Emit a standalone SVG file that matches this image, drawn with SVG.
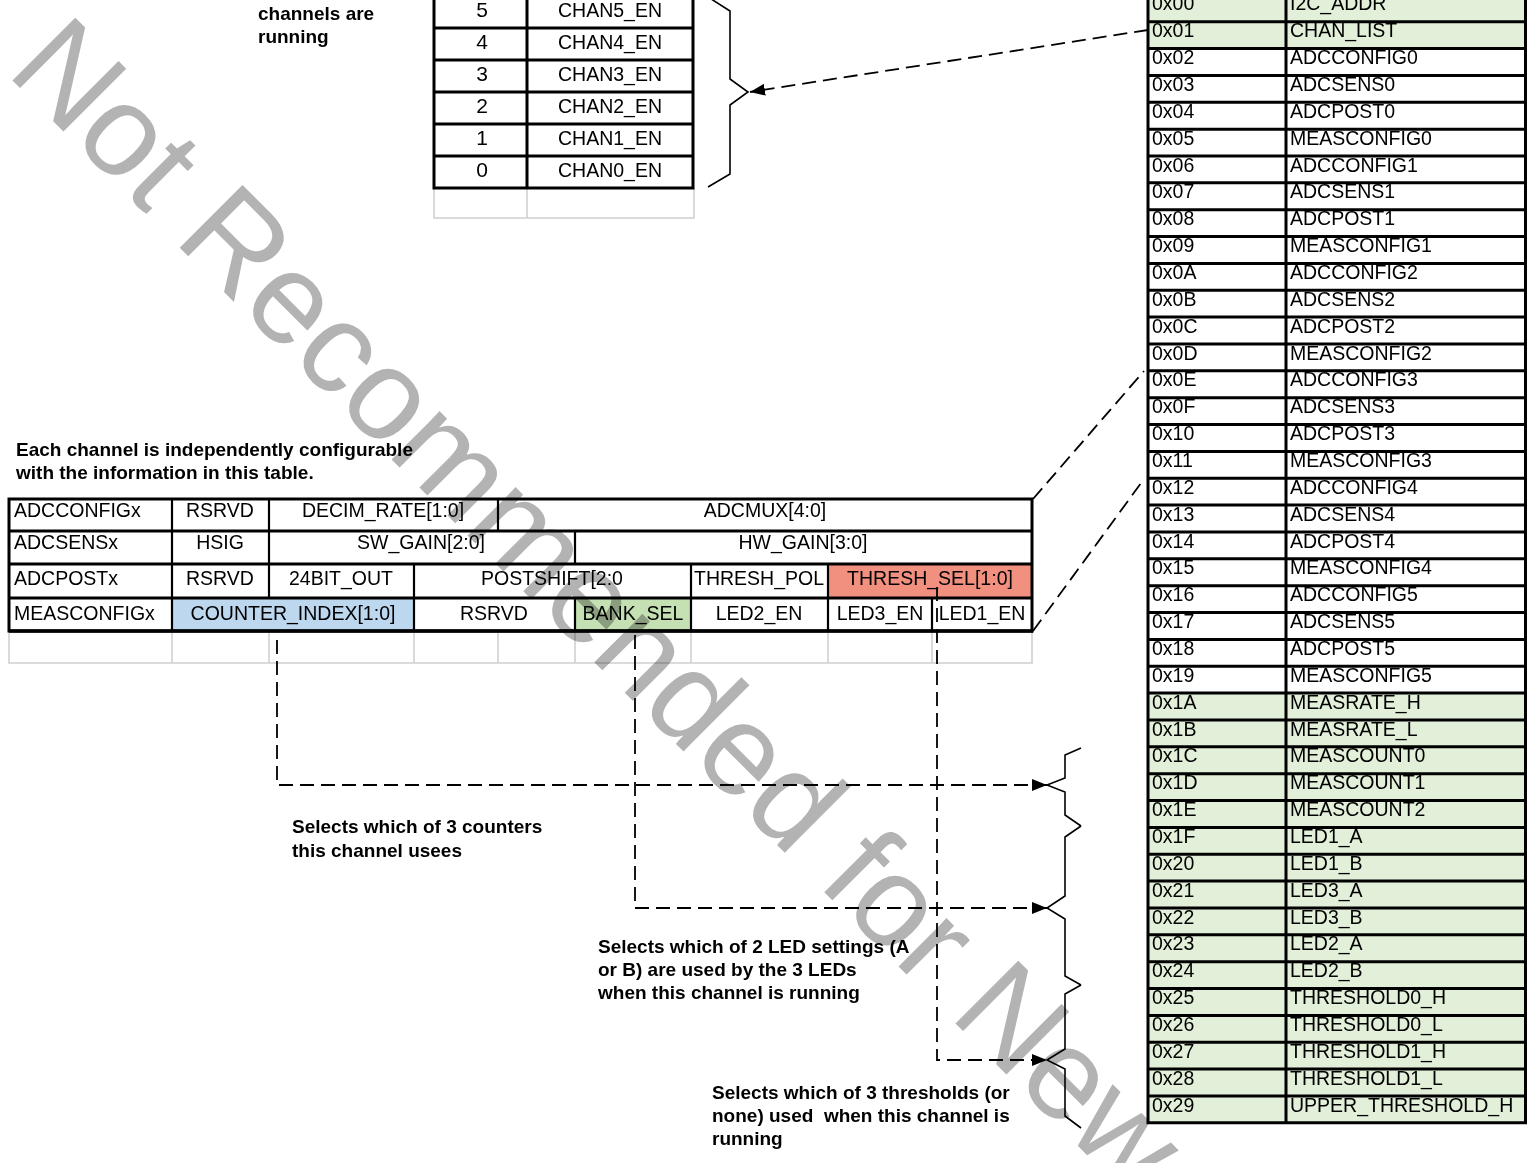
<svg xmlns="http://www.w3.org/2000/svg" width="1527" height="1163" viewBox="0 0 1527 1163">
<style>
  .lbl{font-family:"Liberation Sans",Arial,sans-serif;font-size:19.5px;fill:#000}
  .reg{font-family:"Liberation Sans",Arial,sans-serif;font-size:19.5px;fill:#000}
  .dig{font-family:"Liberation Sans",Arial,sans-serif;font-size:21px;fill:#000;text-anchor:middle}
  .mid{text-anchor:middle}
  .note{font-family:"Liberation Sans",Arial,sans-serif;font-size:19px;font-weight:bold;fill:#000}
  .thick{stroke:#000;stroke-width:3;fill:none}
  .thin{stroke:#000;stroke-width:2.2;fill:none}
  .gray{stroke:#d0d0d0;stroke-width:1.6;fill:none}
  .dash{stroke:#000;stroke-width:1.8;stroke-dasharray:14 7;fill:none}
  .brace{stroke:#000;stroke-width:1.6;fill:none;stroke-linejoin:miter}
  .wm{font-family:"Liberation Sans",Arial,sans-serif;font-size:129px;fill:#b3b3b3;mix-blend-mode:multiply}
</style>
<defs>
  <marker id="arrow" markerUnits="userSpaceOnUse" markerWidth="16" markerHeight="12" refX="15" refY="6" orient="auto">
    <path d="M0,0 L15,6 L0,12 z" fill="#000"/>
  </marker>
</defs>
<rect width="1527" height="1163" fill="#fff"/>

<!-- Channel enable table (top) -->
<g id="chan-list-table">
  <path class="gray" d="M434,188 V218 H694 V188 M527,188 V218"/>
  <text class="dig" x="482" y="17">5</text>
  <text class="dig" x="482" y="49">4</text>
  <text class="dig" x="482" y="81">3</text>
  <text class="dig" x="482" y="113">2</text>
  <text class="dig" x="482" y="145">1</text>
  <text class="dig" x="482" y="177">0</text>
  <text class="lbl mid" x="610" y="16.5">CHAN5_EN</text>
  <text class="lbl mid" x="610" y="48.5">CHAN4_EN</text>
  <text class="lbl mid" x="610" y="80.5">CHAN3_EN</text>
  <text class="lbl mid" x="610" y="112.5">CHAN2_EN</text>
  <text class="lbl mid" x="610" y="144.5">CHAN1_EN</text>
  <text class="lbl mid" x="610" y="176.5">CHAN0_EN</text>
  <path class="thick" d="M434,-5 V188 M527,-5 V188 M693,-5 V188 M434,28 H693 M434,60 H693 M434,92 H693 M434,124 H693 M434,156 H693 M432.5,188 H694.5"/>
</g>
<g id="chan-list-brace">
  <path class="brace" d="M708,-3 L730,11 L730,79 L748,92 L730,105 L730,174 L708,187"/>
</g>

<g id="note-channels">
  <text class="note" x="258" y="20">channels are</text>
  <text class="note" x="258" y="43">running</text>
</g>

<!-- Register map (right) -->
<g id="register-map">
  <rect x="1148" y="-6" width="379" height="54.5" fill="#e2efd9"/>
  <rect x="1148" y="693.1" width="379" height="429.7" fill="#e2efd9"/>
  <g class="reg">
    <text x="1152" y="10.3">0x00</text><text x="1290" y="10.3">I2C_ADDR</text>
    <text x="1152" y="37.2">0x01</text><text x="1290" y="37.2">CHAN_LIST</text>
    <text x="1152" y="64.1">0x02</text><text x="1290" y="64.1">ADCCONFIG0</text>
    <text x="1152" y="90.9">0x03</text><text x="1290" y="90.9">ADCSENS0</text>
    <text x="1152" y="117.8">0x04</text><text x="1290" y="117.8">ADCPOST0</text>
    <text x="1152" y="144.6">0x05</text><text x="1290" y="144.6">MEASCONFIG0</text>
    <text x="1152" y="171.5">0x06</text><text x="1290" y="171.5">ADCCONFIG1</text>
    <text x="1152" y="198.3">0x07</text><text x="1290" y="198.3">ADCSENS1</text>
    <text x="1152" y="225.2">0x08</text><text x="1290" y="225.2">ADCPOST1</text>
    <text x="1152" y="252.1">0x09</text><text x="1290" y="252.1">MEASCONFIG1</text>
    <text x="1152" y="278.9">0x0A</text><text x="1290" y="278.9">ADCCONFIG2</text>
    <text x="1152" y="305.8">0x0B</text><text x="1290" y="305.8">ADCSENS2</text>
    <text x="1152" y="332.6">0x0C</text><text x="1290" y="332.6">ADCPOST2</text>
    <text x="1152" y="359.5">0x0D</text><text x="1290" y="359.5">MEASCONFIG2</text>
    <text x="1152" y="386.3">0x0E</text><text x="1290" y="386.3">ADCCONFIG3</text>
    <text x="1152" y="413.2">0x0F</text><text x="1290" y="413.2">ADCSENS3</text>
    <text x="1152" y="440.1">0x10</text><text x="1290" y="440.1">ADCPOST3</text>
    <text x="1152" y="466.9">0x11</text><text x="1290" y="466.9">MEASCONFIG3</text>
    <text x="1152" y="493.8">0x12</text><text x="1290" y="493.8">ADCCONFIG4</text>
    <text x="1152" y="520.6">0x13</text><text x="1290" y="520.6">ADCSENS4</text>
    <text x="1152" y="547.5">0x14</text><text x="1290" y="547.5">ADCPOST4</text>
    <text x="1152" y="574.3">0x15</text><text x="1290" y="574.3">MEASCONFIG4</text>
    <text x="1152" y="601.2">0x16</text><text x="1290" y="601.2">ADCCONFIG5</text>
    <text x="1152" y="628.1">0x17</text><text x="1290" y="628.1">ADCSENS5</text>
    <text x="1152" y="654.9">0x18</text><text x="1290" y="654.9">ADCPOST5</text>
    <text x="1152" y="681.8">0x19</text><text x="1290" y="681.8">MEASCONFIG5</text>
    <text x="1152" y="708.6">0x1A</text><text x="1290" y="708.6">MEASRATE_H</text>
    <text x="1152" y="735.5">0x1B</text><text x="1290" y="735.5">MEASRATE_L</text>
    <text x="1152" y="762.3">0x1C</text><text x="1290" y="762.3">MEASCOUNT0</text>
    <text x="1152" y="789.2">0x1D</text><text x="1290" y="789.2">MEASCOUNT1</text>
    <text x="1152" y="816.1">0x1E</text><text x="1290" y="816.1">MEASCOUNT2</text>
    <text x="1152" y="842.9">0x1F</text><text x="1290" y="842.9">LED1_A</text>
    <text x="1152" y="869.8">0x20</text><text x="1290" y="869.8">LED1_B</text>
    <text x="1152" y="896.6">0x21</text><text x="1290" y="896.6">LED3_A</text>
    <text x="1152" y="923.5">0x22</text><text x="1290" y="923.5">LED3_B</text>
    <text x="1152" y="950.3">0x23</text><text x="1290" y="950.3">LED2_A</text>
    <text x="1152" y="977.2">0x24</text><text x="1290" y="977.2">LED2_B</text>
    <text x="1152" y="1004.1">0x25</text><text x="1290" y="1004.1">THRESHOLD0_H</text>
    <text x="1152" y="1030.9">0x26</text><text x="1290" y="1030.9">THRESHOLD0_L</text>
    <text x="1152" y="1057.8">0x27</text><text x="1290" y="1057.8">THRESHOLD1_H</text>
    <text x="1152" y="1084.6">0x28</text><text x="1290" y="1084.6">THRESHOLD1_L</text>
    <text x="1152" y="1111.5">0x29</text><text x="1290" y="1111.5">UPPER_THRESHOLD_H</text>
  </g>
  <path class="thick" d="M1148,-6 V1124.3 M1286,-6 V1124.3 M1525.5,-6 V1124.3
    M1148,21.7 H1527 M1148,48.55 H1527 M1148,75.41 H1527 M1148,102.27 H1527 M1148,129.13 H1527
    M1148,155.98 H1527 M1148,182.84 H1527 M1148,209.7 H1527 M1148,236.55 H1527 M1148,263.41 H1527
    M1148,290.27 H1527 M1148,317.12 H1527 M1148,343.98 H1527 M1148,370.84 H1527 M1148,397.7 H1527
    M1148,424.55 H1527 M1148,451.41 H1527 M1148,478.27 H1527 M1148,505.12 H1527 M1148,531.98 H1527
    M1148,558.84 H1527 M1148,585.69 H1527 M1148,612.55 H1527 M1148,639.41 H1527 M1148,666.27 H1527
    M1148,693.12 H1527 M1148,719.98 H1527 M1148,746.84 H1527 M1148,773.69 H1527 M1148,800.55 H1527
    M1148,827.41 H1527 M1148,854.26 H1527 M1148,881.12 H1527 M1148,907.98 H1527 M1148,934.84 H1527
    M1148,961.69 H1527 M1148,988.55 H1527 M1148,1015.41 H1527 M1148,1042.26 H1527 M1148,1069.12 H1527
    M1148,1095.98 H1527 M1146.5,1122.84 H1527"/>
</g>

<g id="register-braces">
  <path class="brace" d="M1081,748 L1065,755 L1065,778 L1047,785 L1065,792 L1065,815 L1081,826"/>
  <path class="brace" d="M1081,826 L1065,837 L1065,896 L1047,908 L1065,919 L1065,976 L1081,985"/>
  <path class="brace" d="M1081,985 L1065,994 L1065,1049 L1047,1060 L1065,1069 L1065,1116 L1081,1128"/>
</g>

<!-- Channel configuration table (bottom left) -->
<g id="note-config">
  <text class="note" x="16" y="456">Each channel is independently configurable</text>
  <text class="note" x="16" y="479">with the information in this table.</text>
</g>
<g id="channel-config-table">
  <rect x="828" y="564" width="204" height="34" fill="#f29080"/>
  <rect x="172" y="598" width="242" height="33" fill="#bdd7ee"/>
  <rect x="575" y="598" width="116" height="33" fill="#c5e0b3"/>
  <path class="gray" d="M9,631 V663 H1032 V631 M172,631 V663 M269,631 V663 M414,631 V663 M498,631 V663 M575,631 V663 M691,631 V663 M828,631 V663 M932,631 V663"/>
  <g class="lbl">
    <text x="14" y="517">ADCCONFIGx</text>
    <text class="mid" x="220" y="517">RSRVD</text>
    <text class="mid" x="383" y="517">DECIM_RATE[1:0]</text>
    <text class="mid" x="765" y="517">ADCMUX[4:0]</text>
    <text x="14" y="549">ADCSENSx</text>
    <text class="mid" x="220" y="549">HSIG</text>
    <text class="mid" x="421" y="549">SW_GAIN[2:0]</text>
    <text class="mid" x="803" y="549">HW_GAIN[3:0]</text>
    <text x="14" y="585">ADCPOSTx</text>
    <text class="mid" x="220" y="585">RSRVD</text>
    <text class="mid" x="341" y="585">24BIT_OUT</text>
    <text class="mid" x="552" y="585">POSTSHIFT[2:0</text>
    <text class="mid" x="759" y="585">THRESH_POL</text>
    <text class="mid" x="930" y="585">THRESH_SEL[1:0]</text>
    <text x="14" y="620">MEASCONFIGx</text>
    <text class="mid" x="293" y="620">COUNTER_INDEX[1:0]</text>
    <text class="mid" x="494" y="620">RSRVD</text>
    <text class="mid" x="633" y="620">BANK_SEL</text>
    <text class="mid" x="759" y="620">LED2_EN</text>
    <text class="mid" x="880" y="620">LED3_EN</text>
    <text class="mid" x="982" y="620">LED1_EN</text>
  </g>
  <path class="thin" d="M172,499 V631 M269,499 V598 M498,499 V531 M575,531 V564 M414,564 V631 M691,564 V631 M828,564 V631 M575,598 V631 M932,598 V631"/>
  <path class="thick" d="M9,499 H1032 V631 H9 Z M9,531 H1032 M9,564 H1032 M9,598 H1032"/>
  <path d="M9,631 H1033" stroke="#000" stroke-width="3.5"/>
</g>

<g id="note-counters">
  <text class="note" x="292" y="833">Selects which of 3 counters</text>
  <text class="note" x="292" y="857">this channel usees</text>
</g>
<g id="note-led">
  <text class="note" x="598" y="953">Selects which of 2 LED settings (A</text>
  <text class="note" x="598" y="976">or B) are used by the 3 LEDs</text>
  <text class="note" x="598" y="999">when this channel is running</text>
</g>
<g id="note-thresholds">
  <text class="note" x="712" y="1099">Selects which of 3 thresholds (or</text>
  <text class="note" x="712" y="1122" style="white-space:pre">none) used  when this channel is</text>
  <text class="note" x="712" y="1145">running</text>
</g>

<!-- Connectors -->
<g id="connectors">
  <path class="dash" d="M1148,30 L750,92" marker-end="url(#arrow)"/>
  <path class="dash" d="M1033,499 L1144,371"/>
  <path class="dash" d="M1033,631 L1144,479"/>
  <path class="dash" d="M277,640 V785 H1047" marker-end="url(#arrow)"/>
  <path class="dash" d="M635,635 V908 H1047" marker-end="url(#arrow)"/>
  <path class="dash" d="M937,587 V1060 H1047" marker-end="url(#arrow)"/>
</g>

<!-- Watermark -->
<text class="wm" transform="translate(5,73) rotate(45)">Not Recommended for New</text>
</svg>
